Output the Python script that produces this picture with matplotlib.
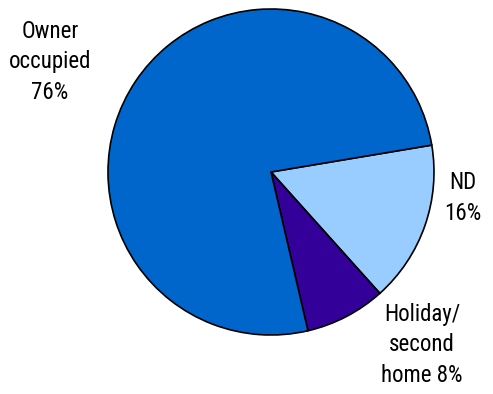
import matplotlib
matplotlib.use("Agg")
import matplotlib.pyplot as plt
from matplotlib import font_manager

categories = ["ND", "Holiday/\nsecond\nhome", "Owner\noccupied"]
values = [16, 8, 76]
colors = ["#99CCFF", "#330099", "#0066CC"]

# Prefer an upright, regular-weight condensed sans face for the labels
entries = font_manager.fontManager.ttflist
condensed = [f for f in entries
             if ("Narrow" in f.name or "Condensed" in f.name
                 or f.stretch in ("condensed", "semi-condensed", "extra-condensed"))]
upright = [f for f in condensed if f.style == "normal"]
regular = [f for f in upright if f.weight in (400, "normal", "regular")]
preferred = ["Liberation Sans Narrow", "Roboto Condensed", "Open Sans Condensed",
             "Noto Sans Condensed", "DejaVu Sans Condensed"]
label_font = None
for p in preferred:
    hits = [f for f in regular if f.name == p] or [f for f in upright if f.name == p]
    if hits:
        label_font = font_manager.FontProperties(fname=hits[0].fname)
        break
if label_font is None and (regular or upright):
    label_font = font_manager.FontProperties(fname=(regular or upright)[0].fname)
if label_font is None:
    label_font = font_manager.FontProperties(family="DejaVu Sans", stretch="condensed")
label_font.set_size(16.5)

W, H = 493, 394
fig = plt.figure(figsize=(W / 100, H / 100), dpi=100)
cx, cy, r = 271, 172, 163
ax = fig.add_axes([(cx - r) / W, (H - cy - r) / H, 2 * r / W, 2 * r / H])
ax.pie(values, colors=colors, startangle=9.5, counterclock=False,
       wedgeprops=dict(edgecolor="black", linewidth=1.2))
ax.set_xlim(-1, 1)
ax.set_ylim(-1, 1)
ax.set_aspect("equal")
ax.axis("off")

label_text = [
    f"{categories[0]}\n{values[0]}%",
    f"{categories[1]} {values[1]}%",
    f"{categories[2]}\n{values[2]}%",
]
label_pos = [(1.178, -0.16), (0.926, -1.061), (-1.356, 0.675)]
for txt, (x, y) in zip(label_text, label_pos):
    ax.text(x, y, txt, ha="center", va="center", fontproperties=label_font,
            linespacing=1.4, clip_on=False)

fig.savefig("out.png", dpi=100)
